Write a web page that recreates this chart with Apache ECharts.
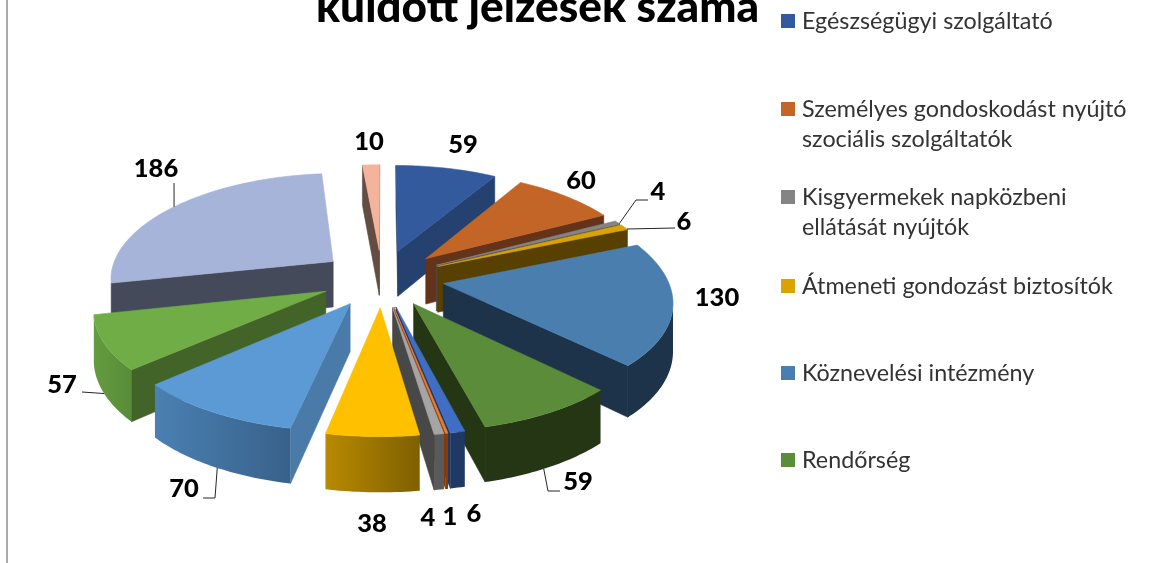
<!DOCTYPE html>
<html><head><meta charset="utf-8">
<style>html,body{margin:0;padding:0;background:#fff}#c{width:1157px;height:563px}</style>
<script src="https://cdn.jsdelivr.net/npm/echarts@6/dist/echarts.min.js"></script>
</head><body><div id="c"></div>
<script>
// ---- data ----
const values = [59, 60, 4, 6, 130, 59, 6, 1, 4, 38, 70, 57, 186, 10];
const legendNames = [
  'Egészségügyi szolgáltató',
  'Személyes gondoskodást nyújtó\nszociális szolgáltatók',
  'Kisgyermekek napközbeni\nellátását nyújtók',
  'Átmeneti gondozást biztosítók',
  'Köznevelési intézmény',
  'Rendőrség'
];
const chartTitle = 'küldött jelzések száma';
// ---- styles ----
const topColors  = ['#345A9E','#C36526','#848484','#D9A300','#4A7EAF','#5B8C39','#3F6EC4','#ED7D31','#A5A5A5','#FFC000','#5B9AD5','#70AD47','#A5B4D8','#F4B49B'];
const faceColors = ['#25416F','#63331A','#4A4A4A','#574000','#1C3349','#253615','#1F3864','#843C0C','#484848','#7F6000','#4A7BA8','#426428','#444A5A','#634D42'];
const rimLeft    = ['#25416F','#63331A','#5A5A5A','#574000','#1C3349','#253615','#1F3864','#843C0C','#5A5A5A','#B88A00','#4A80B2','#649C3F','#444A5A','#634D42'];
const rimRight   = ['#25416F','#63331A','#5A5A5A','#574000','#1C3349','#253615','#1F3864','#843C0C','#5A5A5A','#7F6000','#38618A','#588C38','#444A5A','#634D42'];
// ---- layout ----
const CX = 382, CY = 278, R = 224, EXPLODE = 62, PERSP_Y = 1715, PERSP_X = 1550, TILT = 0.462, DEPTH = 46.5;
const labelPos = [[463,145],[581,181],[658,192],[684,222],[717,298],[578,482],[474,514],[450,517],[428,518],[372,524],[184,489],[62,385],[156,169],[369,142]];
// leader: slice index -> [fraction along the rim, on rim bottom?, next points]
const leaders = {
  12: [0.5, 0, [[174,183]]],
  2:  [0.9, 0, [[636,200],[648,200]]],
  3:  [0.9, 0, [[675,228]]],
  5:  [0.55, 1, [[548,491],[560,491]]],
  10: [0.47, 1, [[215,498],[203,498]]],
  11: [0.5, 1, [[82,392]]]
};
const legendY = [21, 109, 197, 286, 373, 460];

const total = values.reduce((a, b) => a + b, 0);
const rad = d => d * Math.PI / 180;
function project(x, y, z) {
  const sy = PERSP_Y / (PERSP_Y - y), sx = PERSP_X / (PERSP_X - y);
  return [CX + x * sx, CY + (TILT * y + z) * sy];
}
function area(p) {
  let a = 0;
  for (let i = 0; i < p.length; i++) {
    const q = p[(i + 1) % p.length];
    a += p[i][0] * q[1] - q[0] * p[i][1];
  }
  return a / 2;
}
let cum = 0;
const spans = values.map(v => { const a0 = cum / total * 360; cum += v; return [a0, cum / total * 360]; });

function makeRenderer(i) {
  return function () {
    const [a0, a1] = spans[i];
    const mid = rad((a0 + a1) / 2);
    const ox = EXPLODE * Math.sin(mid), oy = -EXPLODE * Math.cos(mid);
    const rimPt = (deg, z) => project(ox + R * Math.sin(rad(deg)), oy - R * Math.cos(rad(deg)), z);
    const apex = project(ox, oy, 0), apexB = project(ox, oy, DEPTH);
    const steps = Math.max(2, Math.ceil(a1 - a0));
    const angles = [];
    for (let k = 0; k <= steps; k++) angles.push(a0 + (a1 - a0) * k / steps);
    const kids = [];
    const solid = c => ({ fill: c, stroke: c, lineWidth: 0.6 });
    // rim: only the part that faces the viewer
    const upper = [], lower = [];
    for (let k = 0; k < steps; k++) {
      const q = [rimPt(angles[k], 0), rimPt(angles[k + 1], 0), rimPt(angles[k + 1], DEPTH), rimPt(angles[k], DEPTH)];
      if (area(q) < -0.001) {
        if (!upper.length) { upper.push(q[0]); lower.push(q[3]); }
        upper.push(q[1]); lower.push(q[2]);
      }
    }
    if (upper.length) {
      kids.push({ type: 'polygon', shape: { points: upper.concat(lower.slice().reverse()) },
        style: { fill: new echarts.graphic.LinearGradient(0, 0, 1, 0, [{ offset: 0, color: rimLeft[i] }, { offset: 1, color: rimRight[i] }]) } });
    }
    // radial cut faces
    const fStart = [apex, rimPt(a0, 0), rimPt(a0, DEPTH), apexB];
    const fEnd = [apex, rimPt(a1, 0), rimPt(a1, DEPTH), apexB];
    if (area(fStart) < 0) kids.push({ type: 'polygon', shape: { points: fStart }, style: solid(faceColors[i]) });
    if (area(fEnd) > 0) kids.push({ type: 'polygon', shape: { points: fEnd }, style: solid(faceColors[i]) });
    // top face
    kids.push({ type: 'polygon', shape: { points: [apex].concat(angles.map(a => rimPt(a, 0))) }, style: solid(topColors[i]) });
    // leader
    if (leaders[i]) {
      const [f, b, rest] = leaders[i];
      kids.push({ type: 'polyline', shape: { points: [rimPt(a0 + (a1 - a0) * f, b ? DEPTH : 0)].concat(rest) },
        style: { stroke: '#262626', fill: null, lineWidth: 1 } });
    }
    // value label
    kids.push({ type: 'text', style: { text: String(values[i]), x: labelPos[i][0], y: labelPos[i][1],
      align: 'center', verticalAlign: 'middle', font: '900 25.5px Lato', fill: '#000' } });
    return { type: 'group', children: kids };
  };
}

const plainName = i => legendNames[i] || ('Kategória ' + (i + 1));
const series = values.map((v, i) => {
  const m = rad((spans[i][0] + spans[i][1]) / 2);
  return {
    type: 'custom', name: plainName(i), coordinateSystem: 'none',
    data: [[v]], renderItem: makeRenderer(i), silent: true, animation: false,
    z: Math.round(100 - 50 * Math.cos(m)),
    itemStyle: { color: topColors[i] }
  };
});

const legend = legendNames.map((n, i) => {
  const two = n.includes('\n');
  return {
    data: [n], left: 781, top: legendY[i] - (two ? 46.5 : 16.5), padding: 0, orient: 'vertical',
    icon: 'rect', itemWidth: 14, itemHeight: 14, selectedMode: false,
    formatter: s => (two ? '\n' : '') + s,
    textStyle: { fontFamily: 'Lato', fontSize: 23.3, color: '#333', lineHeight: 30, padding: [3, 0, 0, 2] }
  };
});

const chart = echarts.init(document.getElementById('c'), null, { renderer: 'canvas' });
chart.setOption({
  backgroundColor: '#fff', animation: false,
  title: { text: chartTitle, left: 316, top: -14, padding: 0,
    textStyle: { fontFamily: 'Lato', fontWeight: 900, fontSize: 44.2, color: '#000' } },
  legend, series,
  graphic: [{ type: 'rect', shape: { x: 6, y: 0, width: 2, height: 563 }, style: { fill: '#ABABAB' } }]
});
</script></body></html>
